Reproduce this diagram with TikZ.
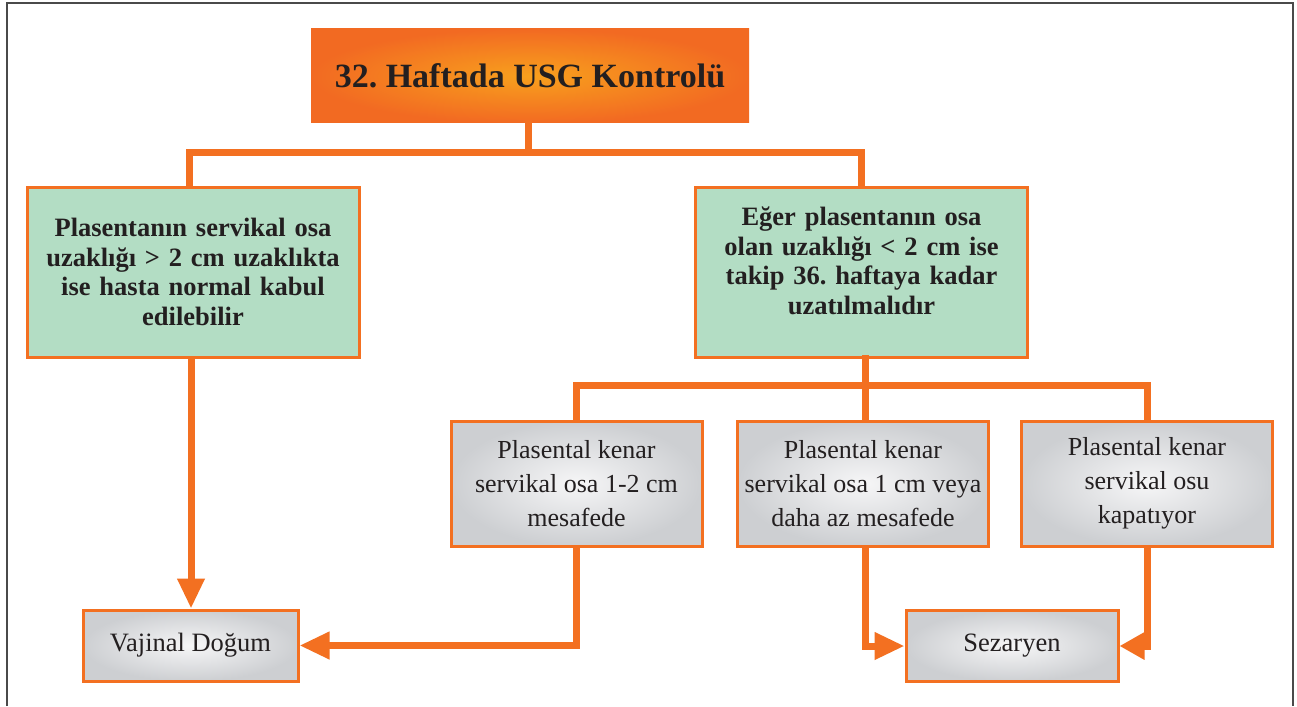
\documentclass[tikz,border=0pt]{standalone}
\usepackage{fontspec}
\setmainfont{Liberation Serif}
\usetikzlibrary{arrows.meta,calc}
\frenchspacing
\definecolor{orng}{HTML}{F37021}
\definecolor{orngLight}{HTML}{F8A01D}
\definecolor{orngDark}{HTML}{F26A22}
\definecolor{mint}{HTML}{B3DDC4}
\definecolor{greyIn}{HTML}{F6F6F7}
\definecolor{greyOut}{HTML}{CDCFD2}
\definecolor{frameGrey}{HTML}{4A4A4A}
\definecolor{ink}{HTML}{231F20}
\tikzset{
  titlebox/.style={rectangle, minimum width=438pt, minimum height=94pt, inner sep=0pt,
    shading=radial, inner color=orngLight, outer color=orngDark,
    font=\fontsize{34}{38}\selectfont\bfseries, text=ink},
  notebox/.style={rectangle, draw=orng, line width=3pt, fill=mint,
    minimum width=332pt, minimum height=170pt, inner sep=0pt, text width=320pt, align=center,
    font=\fontsize{26.5}{29.5}\selectfont\bfseries, text=ink},
  casebox/.style={rectangle, draw=orng, line width=3pt,
    shading=radial, inner color=greyIn, outer color=greyOut,
    minimum width=251pt, minimum height=125pt, inner sep=0pt, align=center,
    font=\fontsize{26}{34}\selectfont, text=ink},
  endbox/.style={rectangle, draw=orng, line width=3pt,
    shading=radial, inner color=greyIn, outer color=greyOut,
    minimum height=71pt, inner sep=0pt, align=center,
    font=\fontsize{26.5}{30}\selectfont, text=ink},
  conn/.style={draw=orng, line width=7pt, line join=miter, line cap=rect},
  arrowto/.style={draw=orng, line width=7pt, line join=miter,
    -{Triangle[length=30pt,width=26pt]}},
  arrowshort/.style={arrowto, -{Triangle[length=25pt,width=26pt]}},
}
\begin{document}
\begin{tikzpicture}[x=1pt,y=-1pt]
\useasboundingbox (0,0) rectangle (1297,706);
\fill[white] (0,0) rectangle (1297,706);

% page frame, open at the bottom
\draw[frameGrey, line width=1.5pt] (7,706) -- (7,3) -- (1293,3) -- (1293,706);

% boxes
\node[titlebox] (title) at (530,76) {32. Haftada USG Kontrolü};

\node[notebox] (lg) at (193,272)
  {Plasentanın servikal osa\\ uzaklığı > 2 cm uzaklıkta\\ ise hasta normal kabul\\ edilebilir};
\node[notebox, execute at end node={\par\vspace*{22pt}}] (rg) at (861.5,272)
  {Eğer plasentanın osa\\ olan uzaklığı < 2 cm ise\\ takip 36. haftaya kadar\\ uzatılmalıdır};

\node[casebox] (c1) at (576.5,483.5) {Plasental kenar\\ servikal osa 1-2 cm\\ mesafede};
\node[casebox] (c2) at (863,483.5) {Plasental kenar\\ servikal osa 1 cm veya\\ daha az mesafede};
\node[casebox] (c3) at (1147,483.5) {Plasental kenar\\ servikal osu\\ kapatıyor};

\node[endbox, minimum width=215pt] (vd) at (190.5,645.5) {Vajinal Doğum};
\node[endbox, minimum width=212pt] (sz) at (1012,646) {Sezaryen};

% tree connectors
\coordinate (t0) at ([xshift=-2pt]title.south);
\coordinate (j1) at ($(t0)+(0,29)$);
\coordinate (l0) at ([xshift=-4pt]lg.north);
\draw[conn] (t0) -- (j1);
\draw[conn] (l0) |- (j1) -| (rg.north);

\coordinate (r0) at ([xshift=4pt]rg.south);
\coordinate (j2) at ($(r0)+(0,27)$);
\draw[conn] (r0) -- (j2);
\draw[conn] (c1.north) |- (j2) -| (c3.north);
\draw[conn] (j2) -- (j2 |- c2.north);

% outcome arrows
\coordinate (l1) at ([xshift=-2pt]lg.south);
\coordinate (m1) at ([xshift=2pt]c2.south);
\draw[arrowto] (l1) -- (l1 |- vd.north);
\draw[arrowto] (c1.south) |- (vd.east);
\draw[arrowto] (m1) |- (sz.west);
\draw[arrowshort] (c3.south) |- (sz.east);
\end{tikzpicture}
\end{document}
